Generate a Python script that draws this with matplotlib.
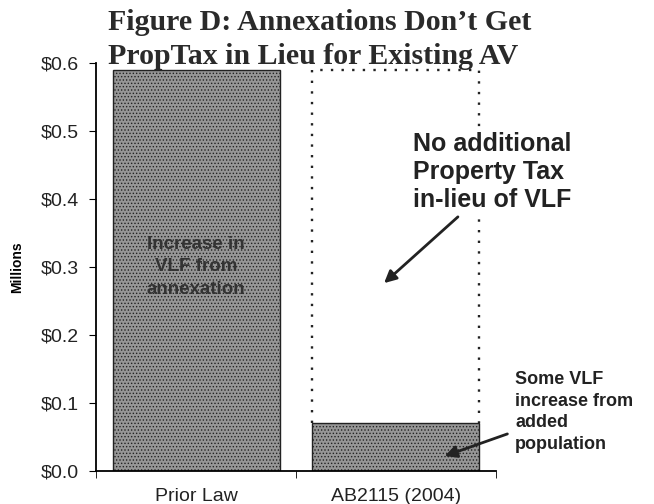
import numpy as np
import matplotlib
matplotlib.use("Agg")
import matplotlib.pyplot as plt

# %% data
categories = ["Prior Law", "AB2115 (2004)"]
vlf_increase = [0.59, 0.07]           # millions of dollars
prior_level = vlf_increase[0]         # what would have come without AB2115
y_ticks = [0.0, 0.1, 0.2, 0.3, 0.4, 0.5, 0.6]

# %% figure
fig = plt.figure(figsize=(6.54, 5.04), dpi=100)
ax = fig.add_axes([0.1468, 0.0655, 0.6116, 0.8095])

x = np.arange(len(categories))
width = 0.835
plt.rcParams['hatch.color'] = '#5e5e5e'
plt.rcParams['hatch.linewidth'] = 0.6
ax.bar(x, vlf_increase, width=width, color='#969696', edgecolor='#222222',
       linewidth=1.0, hatch='.....', zorder=2)

# dotted outline of the missing in-lieu amount
x0, x1 = x[1] - width / 2, x[1] + width / 2
ax.plot([x0, x0, x1, x1], [vlf_increase[1], prior_level, prior_level, vlf_increase[1]],
        color='#222222', linestyle=(0, (1, 3.5)), linewidth=1.7, zorder=1)

sans = 'Liberation Sans'
ax.set_xlim(-0.5, 1.5)
ax.set_ylim(0, 0.6)
ax.set_yticks(y_ticks)
ax.set_yticklabels(['$%.1f' % v for v in y_ticks], fontsize=14, family=sans, color='#222222')
ax.set_xticks(x)
ax.set_xticklabels(categories, fontsize=14, family=sans, color='#222222')
ax.tick_params(axis='x', length=0, pad=12)
ax.set_xticks([-0.5, 0.5, 1.5], minor=True)
ax.tick_params(axis='x', which='minor', length=5, direction='out')
ax.tick_params(axis='y', length=5, direction='out', pad=7)
for s in ['top', 'right']:
    ax.spines[s].set_visible(False)
ax.spines['left'].set_linewidth(1.3)
ax.spines['bottom'].set_linewidth(1.3)
ax.set_ylabel('Millions', fontsize=10, fontweight='bold', family=sans, labelpad=12)

# title, two lines
title_kw = dict(fontsize=21.5, family='Liberation Serif', fontweight='bold',
                color='#2a2a2a', ha='left', va='baseline')
fig.text(108 / 654, 1 - 30 / 504, "Figure D: Annexations Don\u2019t Get", **title_kw)
fig.text(108 / 654, 1 - 64 / 504, "PropTax in Lieu for Existing AV", **title_kw)

# labels and arrows
ax.text(0, 0.30, "Increase in\nVLF from\nannexation", ha='center', va='center',
        fontsize=13.5, fontweight='bold', family=sans, color='#333333',
        linespacing=1.45)
fig.text(413 / 654, 1 - 172 / 504, "No additional\nProperty Tax\nin-lieu of VLF",
         ha='left', va='center', fontsize=18, fontweight='bold', family=sans,
         color='#222222', linespacing=1.2,
         bbox=dict(facecolor='white', edgecolor='none', pad=1))
fig.text(515 / 654, 1 - 412 / 504, "Some VLF\nincrease from\nadded\npopulation",
         ha='left', va='center', fontsize=13, fontweight='bold', family=sans,
         color='#222222', linespacing=1.35)

ax.annotate("", xy=(382 / 654, 1 - 285 / 504), xycoords='figure fraction',
            xytext=(460 / 654, 1 - 215 / 504), textcoords='figure fraction',
            arrowprops=dict(arrowstyle='-|>', color='#222222', lw=2.0, mutation_scale=18))
ax.annotate("", xy=(442 / 654, 1 - 457 / 504), xycoords='figure fraction',
            xytext=(510 / 654, 1 - 433 / 504), textcoords='figure fraction',
            arrowprops=dict(arrowstyle='-|>', color='#222222', lw=2.0, mutation_scale=18))

fig.savefig('out.png', dpi=100)
